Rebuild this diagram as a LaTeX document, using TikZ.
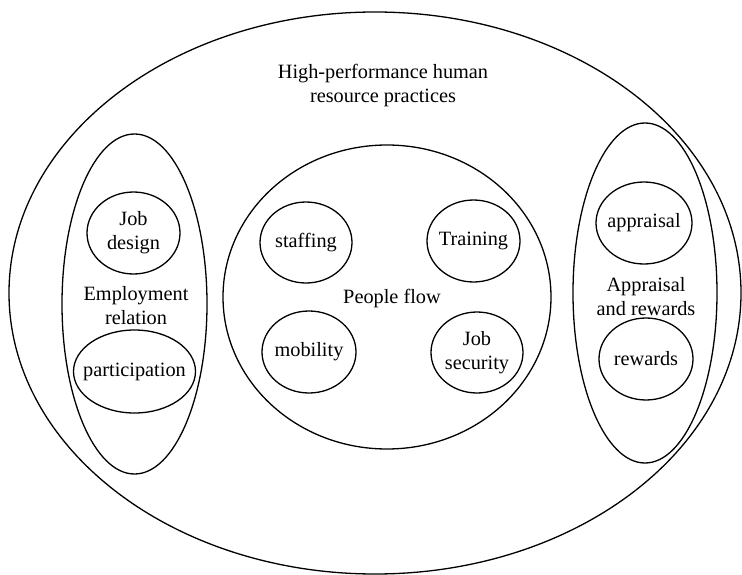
\documentclass[tikz,border=0pt]{standalone}
\usepackage{fontspec}
\setmainfont{Liberation Serif}
\usetikzlibrary{shapes.geometric}
\begin{document}
\begin{tikzpicture}[x=1pt,y=-1pt,line width=1.3pt,
  lbl/.style={align=center,inner sep=0pt,font=\fontsize{20.3}{24}\selectfont},
  oval/.style={draw,ellipse,inner sep=0pt}]
\useasboundingbox (0,0) rectangle (742,575);
% outer ellipse
\node[oval,minimum width=732pt,minimum height=562pt] (hr) at (375,293) {};
\node[lbl] (hr-t) at (383,86) {High-performance human\\resource practices};
% employment relation
\node[oval,minimum width=145pt,minimum height=340pt] (emp) at (134.5,304) {};
\node[lbl] (emp-t) at (136,306) {Employment\\relation};
\node[oval,minimum width=93pt,minimum height=82pt] (jd) at (133.5,233) {};
\node[lbl] (jd-t) at (jd) {Job\\design};
\node[oval,minimum width=122pt,minimum height=83pt] (part) at (134.5,371.5) {};
\node[lbl] (part-t) at (part) {participation};
% people flow
\node[oval,minimum width=328pt,minimum height=304pt] (pf) at (387,297) {};
\node[lbl] (pf-t) at (392,299) {People flow};
\node[oval,minimum width=92pt,minimum height=81pt] (staff) at (306,242.5) {};
\node[lbl] (staff-t) at (staff) {staffing};
\node[oval,minimum width=93pt,minimum height=82pt] (train) at (473.5,241) {};
\node[lbl] (train-t) at (train) {Training};
\node[oval,minimum width=94pt,minimum height=82pt] (mob) at (309,352) {};
\node[lbl] (mob-t) at (mob) {mobility};
\node[oval,minimum width=92pt,minimum height=81pt] (sec) at (477,352.5) {};
\node[lbl] (sec-t) at (sec) {Job\\security};
% appraisal and rewards
\node[oval,minimum width=144pt,minimum height=340pt] (ar) at (645,293) {};
\node[lbl] (ar-t) at (646,297) {Appraisal\\and rewards};
\node[oval,minimum width=96pt,minimum height=82pt] (app) at (644,223) {};
\node[lbl] (app-t) at (app) {appraisal};
\node[oval,minimum width=94pt,minimum height=82pt] (rew) at (646,359) {};
\node[lbl] (rew-t) at (rew) {rewards};
\end{tikzpicture}
\end{document}
